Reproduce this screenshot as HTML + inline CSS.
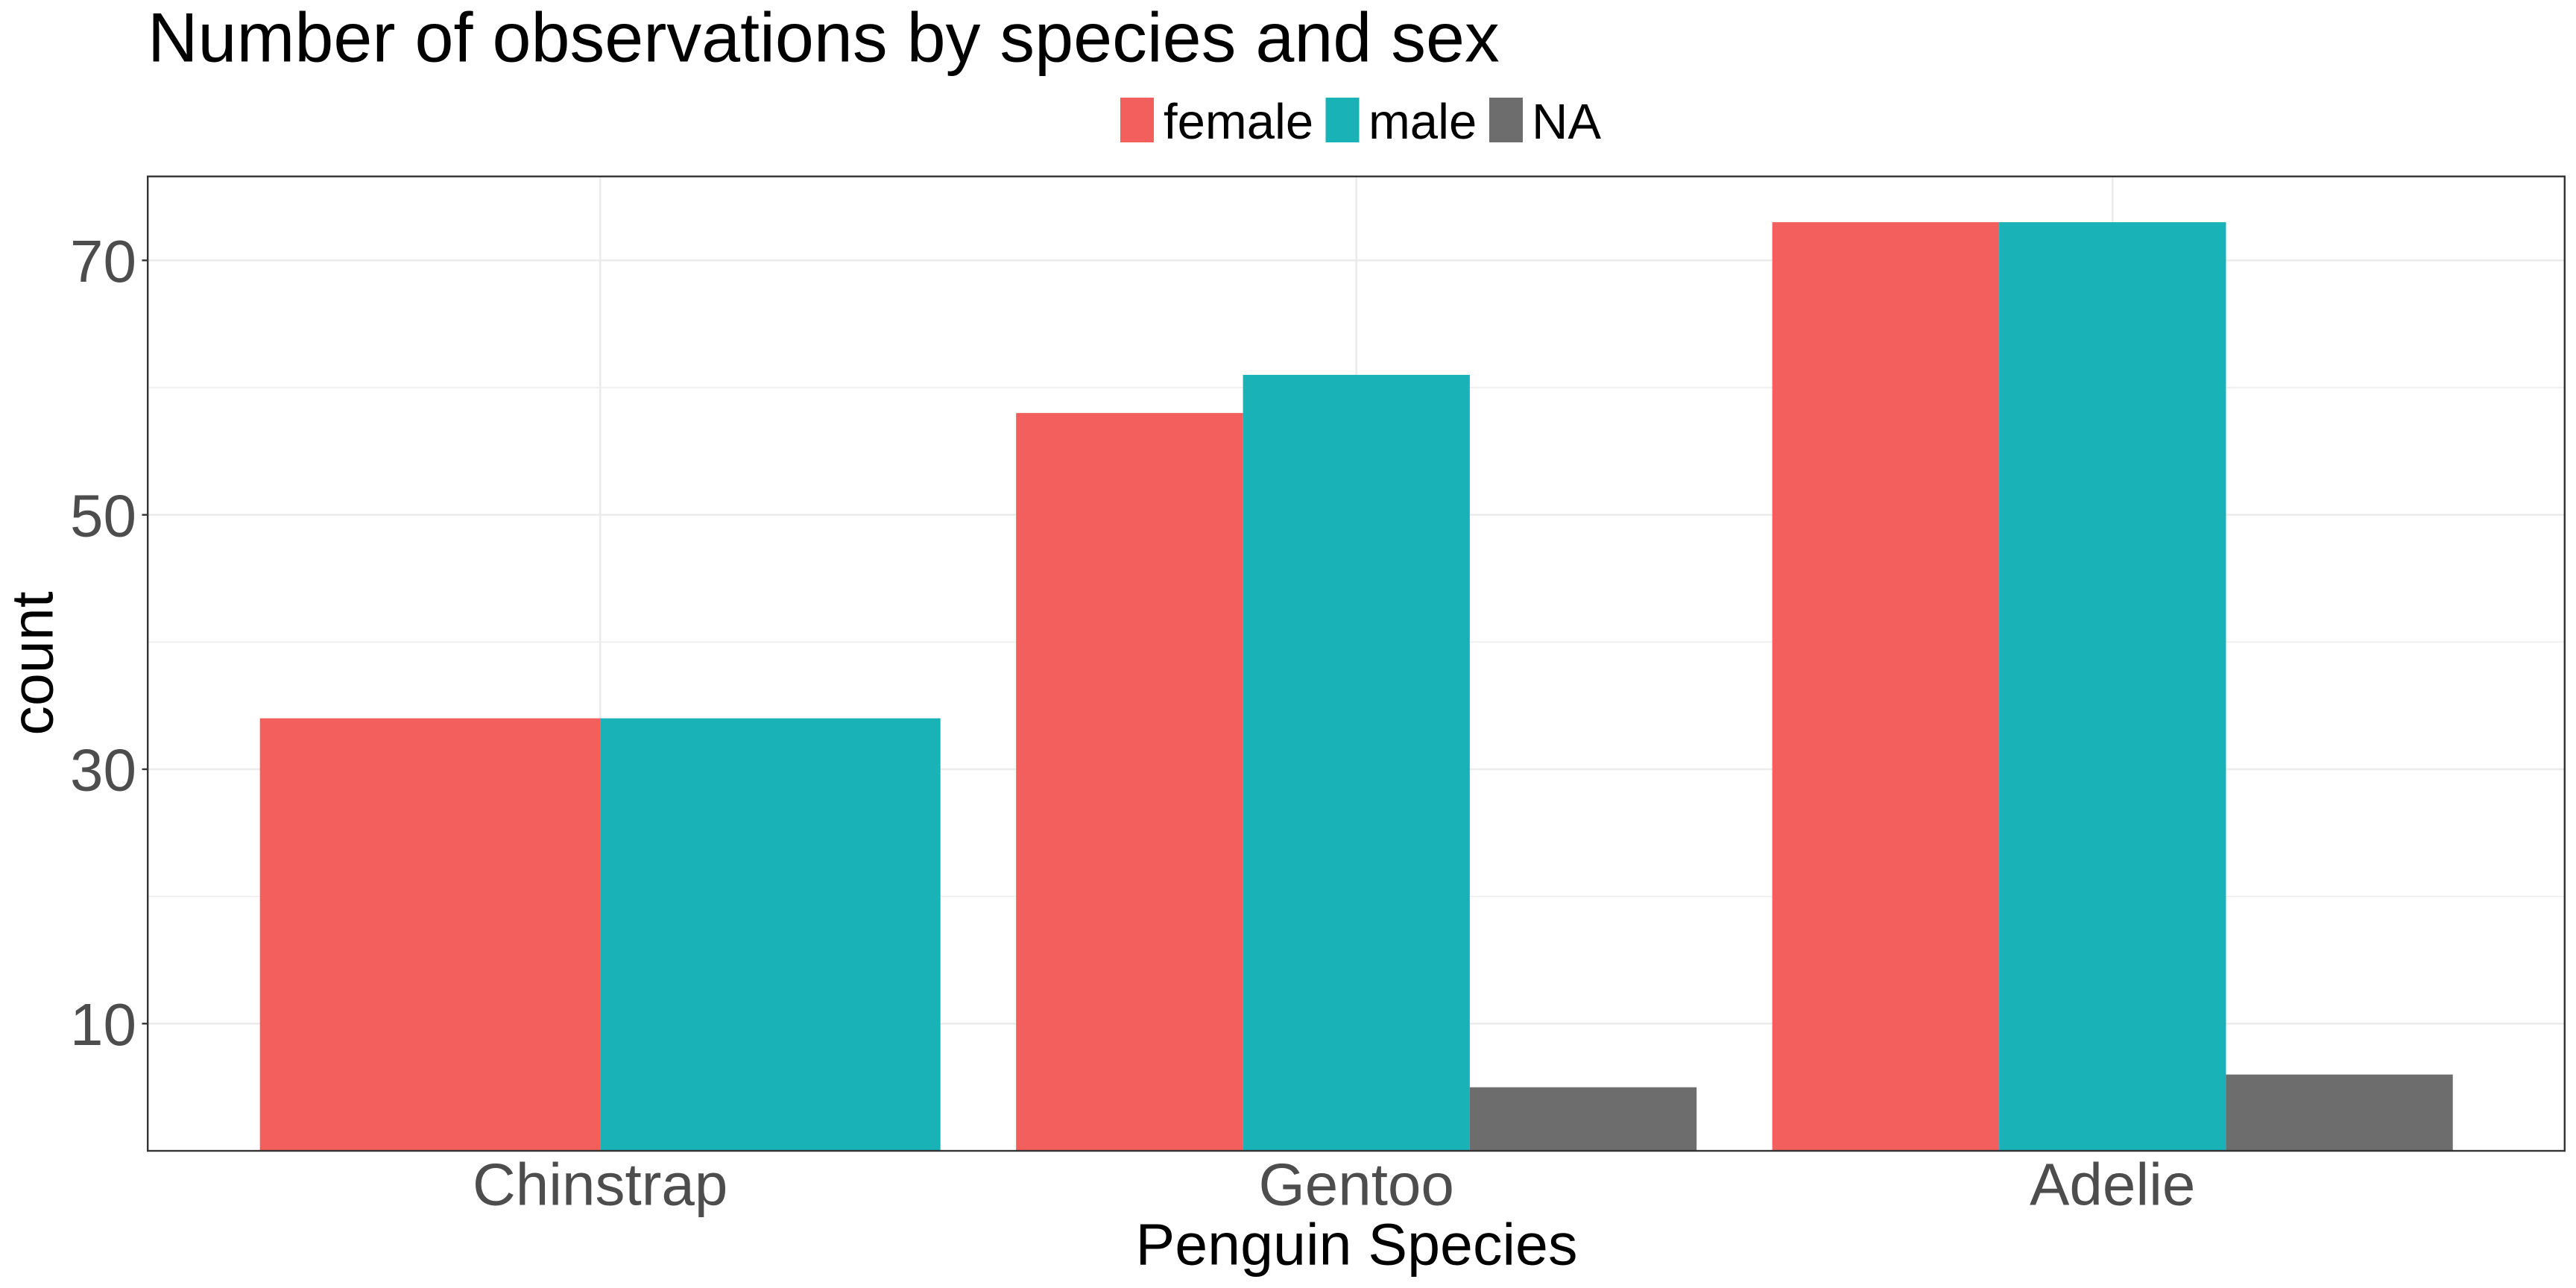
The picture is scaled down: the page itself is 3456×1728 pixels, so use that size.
<!DOCTYPE html>
<html>
<head>
<meta charset="utf-8">
<style>
  html, body { margin:0; padding:0; background:#ffffff; }
  body { width:3456px; height:1728px; overflow:hidden; }
  svg { display:block; }
  text { font-family: "Liberation Sans", Arial, sans-serif; }
</style>
</head>
<body>
<svg width="3456" height="1728" viewBox="0 0 3456 1728" xmlns="http://www.w3.org/2000/svg">
  <rect x="0" y="0" width="3456" height="1728" fill="#ffffff"/>

  <!-- Title -->
  <text x="198" y="82.7" font-size="93.5" fill="#000000">Number of observations by species and sex</text>

  <!-- Legend -->
  <rect x="1503" y="131" width="45" height="60" fill="#F25F5C"/>
  <text x="1561" y="186" font-size="67" fill="#000000">female</text>
  <rect x="1778.5" y="131" width="45" height="60" fill="#19B2B6"/>
  <text x="1836" y="186" font-size="67" fill="#000000">male</text>
  <rect x="1998" y="131" width="45" height="60" fill="#6D6D6D"/>
  <text x="2055" y="186" font-size="67" fill="#000000">NA</text>

  <!-- Panel background -->
  <rect x="198" y="236" width="3244" height="1308" fill="#ffffff"/>

  <!-- Minor gridlines -->
  <g stroke="#EBEBEB" stroke-width="1.4">
    <line x1="198" y1="1202.7" x2="3442" y2="1202.7"/>
    <line x1="198" y1="861.3" x2="3442" y2="861.3"/>
    <line x1="198" y1="520" x2="3442" y2="520"/>
  </g>
  <!-- Major gridlines -->
  <g stroke="#EBEBEB" stroke-width="2.7">
    <line x1="198" y1="1373.3" x2="3442" y2="1373.3"/>
    <line x1="198" y1="1032" x2="3442" y2="1032"/>
    <line x1="198" y1="690.7" x2="3442" y2="690.7"/>
    <line x1="198" y1="349.3" x2="3442" y2="349.3"/>
    <line x1="805.2" y1="236" x2="805.2" y2="1544"/>
    <line x1="1819.7" y1="236" x2="1819.7" y2="1544"/>
    <line x1="2834.2" y1="236" x2="2834.2" y2="1544"/>
  </g>

  <!-- Bars -->
  <!-- Chinstrap -->
  <rect x="348.7" y="963.7" width="456.5" height="580.3" fill="#F25F5C"/>
  <rect x="805.2" y="963.7" width="456.5" height="580.3" fill="#19B2B6"/>
  <!-- Gentoo -->
  <rect x="1363.2" y="554.1" width="304.4" height="989.9" fill="#F25F5C"/>
  <rect x="1667.6" y="502.9" width="304.3" height="1041.1" fill="#19B2B6"/>
  <rect x="1971.9" y="1458.7" width="304.3" height="85.3" fill="#6D6D6D"/>
  <!-- Adelie -->
  <rect x="2377.7" y="298.1" width="304.4" height="1245.9" fill="#F25F5C"/>
  <rect x="2682.1" y="298.1" width="304.3" height="1245.9" fill="#19B2B6"/>
  <rect x="2986.4" y="1441.6" width="304.3" height="102.4" fill="#6D6D6D"/>

  <!-- Panel border -->
  <rect x="198.2" y="236.7" width="3242.6" height="1307.3" fill="none" stroke="#333333" stroke-width="2.4"/>

  <!-- Y ticks -->
  <g stroke="#333333" stroke-width="2.4">
    <line x1="190.5" y1="1373.3" x2="198" y2="1373.3"/>
    <line x1="190.5" y1="1032" x2="198" y2="1032"/>
    <line x1="190.5" y1="690.7" x2="198" y2="690.7"/>
    <line x1="190.5" y1="349.3" x2="198" y2="349.3"/>
  </g>

  <!-- Y tick labels -->
  <g font-size="80" fill="#4D4D4D" text-anchor="end">
    <text x="183" y="1402">10</text>
    <text x="183" y="1060.7">30</text>
    <text x="183" y="719.4">50</text>
    <text x="183" y="378">70</text>
  </g>

  <!-- X tick labels -->
  <g font-size="80" fill="#4D4D4D" text-anchor="middle">
    <text x="805.2" y="1616.5">Chinstrap</text>
    <text x="1819.7" y="1616.5">Gentoo</text>
    <text x="2834.2" y="1616.5">Adelie</text>
  </g>

  <!-- Axis titles -->
  <text x="1820" y="1696.7" font-size="79" fill="#000000" text-anchor="middle">Penguin Species</text>
  <text transform="translate(70.7,890) rotate(-90)" x="0" y="0" font-size="79" fill="#000000" text-anchor="middle">count</text>
</svg>
</body>
</html>
